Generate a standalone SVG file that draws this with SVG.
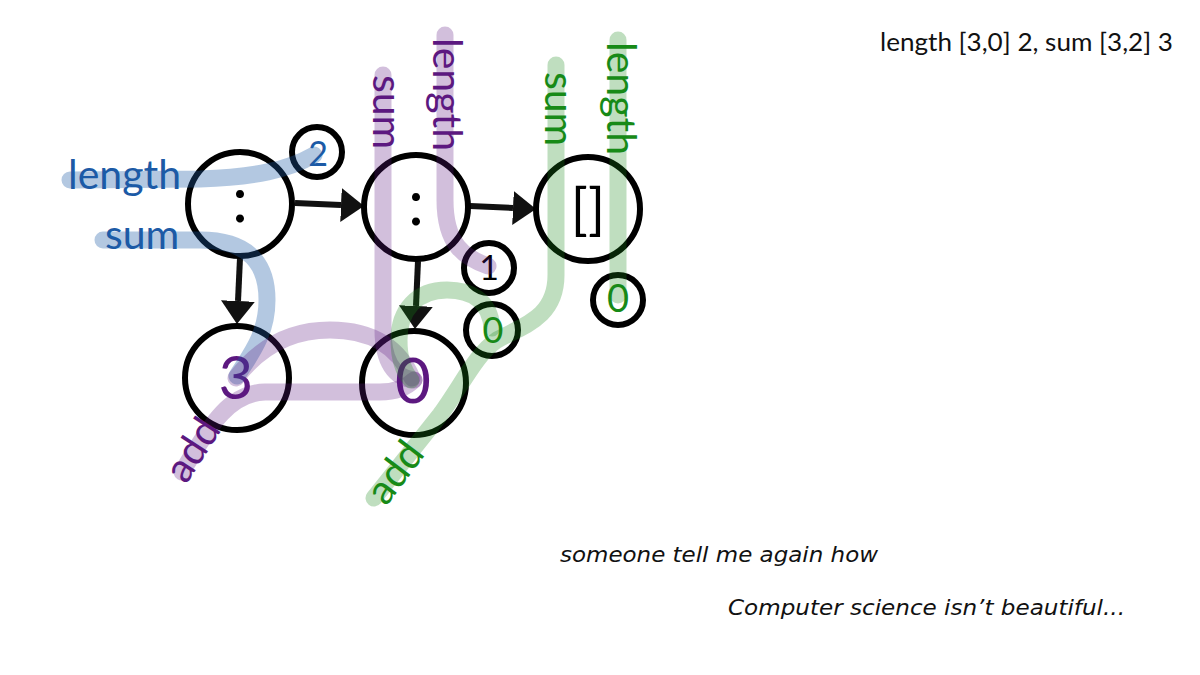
<svg xmlns="http://www.w3.org/2000/svg" width="1200" height="675" viewBox="0 0 1200 675">
<style>
.node{fill:#fff;stroke:#000;stroke-width:6}
.arrow{stroke:#111;stroke-width:6;fill:none}
.wire{fill:none;stroke-width:17;stroke-linecap:round}
.wb{stroke:#1f5ea8;stroke-opacity:0.34}
.wp{stroke:#5c1880;stroke-opacity:0.28}
.wg{stroke:#1a8a1a;stroke-opacity:0.28}
.lbl{font-family:Lato,"Source Sans Pro","Noto Sans",sans-serif;font-size:41px}
.tb{fill:#1c5aa6}
.tp{fill:#5c1880}
.tg{fill:#178a17}
.big{font-family:Lato,"Noto Sans",sans-serif;text-anchor:middle}
.hand{font-family:"DejaVu Sans","Liberation Sans",sans-serif;font-style:italic;font-size:21px;fill:#111}
</style>
<defs>
<marker id="ah" markerUnits="userSpaceOnUse" markerWidth="24" markerHeight="34" refX="0" refY="17" orient="auto">
<path d="M0,0 L23,17 L0,34 z" fill="#111"/>
</marker>
</defs>

<g id="connectors">
<line class="arrow" x1="295" y1="203" x2="341" y2="205" marker-end="url(#ah)"/>
<line class="arrow" x1="470" y1="206" x2="513" y2="208" marker-end="url(#ah)"/>
<line class="arrow" x1="240" y1="258" x2="238" y2="301" marker-end="url(#ah)"/>
<line class="arrow" x1="418" y1="261" x2="416" y2="306" marker-end="url(#ah)"/>
</g>

<g id="node-cons1"><circle class="node" cx="240" cy="204" r="52"/><text class="big" x="240" y="222" font-size="64">:</text></g>
<g id="node-cons2"><circle class="node" cx="416" cy="207" r="52"/><text class="big" x="416" y="225" font-size="64">:</text></g>
<g id="node-nil"><circle class="node" cx="588" cy="209" r="52"/><text class="big" x="588" y="229" font-size="56">[]</text></g>
<g id="node-3"><circle class="node" cx="237" cy="378" r="52"/><text class="big tp" x="236" y="399" font-size="60">3</text></g>
<g id="node-0"><circle class="node" cx="414" cy="383" r="52"/><text class="big tp" x="413" y="403" font-size="62">0</text></g>
<g id="node-2"><circle class="node" cx="317" cy="152" r="25"/><text class="big tb" x="318" y="166" font-size="34">2</text></g>
<g id="node-1"><circle class="node" cx="489" cy="268" r="25"/><text class="big" x="489" y="280" font-size="34">1</text></g>
<g id="node-0a"><circle class="node" cx="492" cy="330" r="26"/><text class="big tg" x="493" y="343" font-size="36">0</text></g>
<g id="node-0b"><circle class="node" cx="618" cy="300" r="25"/><text class="big tg" x="618" y="312" font-size="38">0</text></g>

<g id="wires">
<path class="wire wb" d="M70,180 L200,179 C255,177 288,170 314,155"/>
<path class="wire wb" d="M103,240 L200,240 C250,240 267,265 267,300 C267,335 250,355 237,376"/>
<path class="wire wp" d="M383,75 L383,330 C383,362 395,378 414,380"/>
<path class="wire wp" d="M445,35 L445,200 C445,245 465,258 488,266"/>
<path class="wire wp" d="M182,472 C205,435 225,393 265,392 L380,392 C398,392 408,386 414,380"/>
<path class="wire wp" d="M236,378 C265,340 300,330 330,330 C375,330 400,350 412,378"/>
<path class="wire wg" d="M618,40 L618,295"/>
<path class="wire wg" d="M556,65 L556,275 C556,318 522,326 497,340 C476,354 462,385 440,415 L374,498"/>
<path class="wire wg" d="M492,328 C490,300 470,290 447,290 C417,290 399,310 399,340 C399,360 404,372 411,380"/>
</g>

<g id="wire-labels">
<text class="lbl tb" x="68" y="189">length</text>
<text class="lbl tb" x="105" y="249">sum</text>
<text class="lbl tp" transform="translate(373,75) rotate(90)">sum</text>
<text class="lbl tp" transform="translate(433,38) rotate(90)">length</text>
<text class="lbl tg" transform="translate(545,72) rotate(90)">sum</text>
<text class="lbl tg" transform="translate(607,42) rotate(90)">length</text>
<text class="lbl tp" transform="translate(186,485) rotate(-57)">add</text>
<text class="lbl tg" transform="translate(386,507) rotate(-53)">add</text>
</g>

<text x="880" y="51" font-family="Lato,'Noto Sans',sans-serif" font-size="25" fill="#111" textLength="293" lengthAdjust="spacingAndGlyphs">length [3,0] 2, sum [3,2] 3</text>
<text class="hand" x="560" y="562" textLength="318" lengthAdjust="spacingAndGlyphs">someone tell me again how</text>
<text class="hand" x="728" y="615" textLength="397" lengthAdjust="spacingAndGlyphs">Computer science isn’t beautiful...</text>
</svg>
